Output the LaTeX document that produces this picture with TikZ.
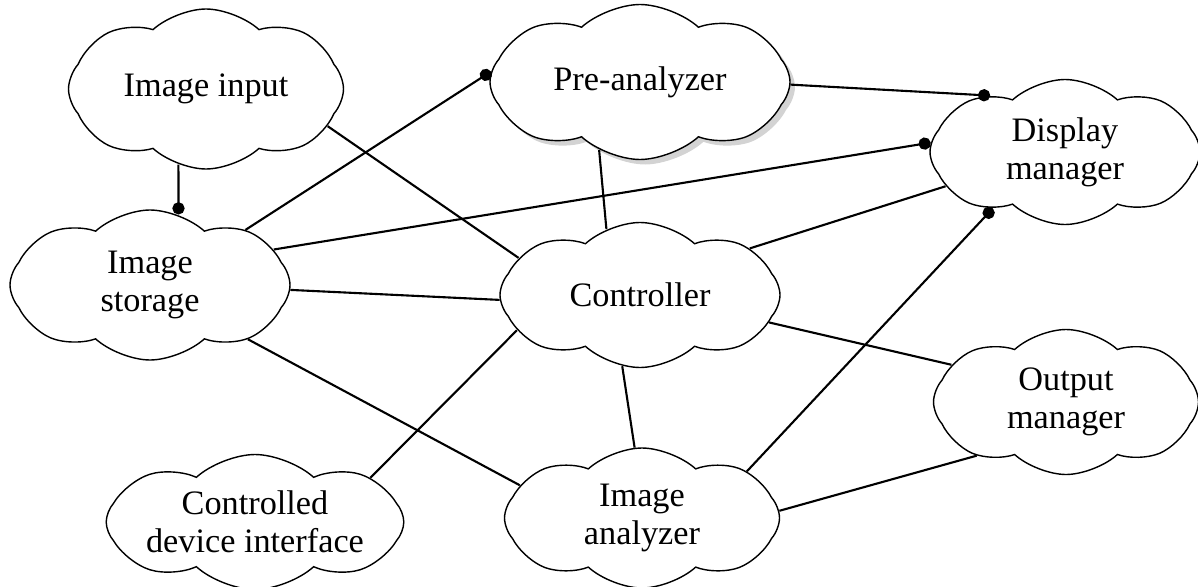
\documentclass[tikz,border=0pt]{standalone}
\usepackage{fontspec}
\setmainfont{Liberation Serif}
\usepackage{tikz}
\usetikzlibrary{arrows,shapes.symbols,shadows}
\tikzset{
  blob/.style = {cloud, cloud puffs=8, cloud puff arc=85, cloud ignores aspect,
    draw=black, line width=0.8pt, fill=white, align=center, inner sep=0pt,
    font=\fontsize{19.5}{21.5}\selectfont},% module
  blob_s/.style = {blob, drop shadow={opacity=0.35, shadow xshift=1mm,
    shadow yshift=-1mm}},% module with shadow
  link/.style = {draw=black, line width=1.2pt}% connection
}

\begin{document}
\begin{tikzpicture}[>=stealth']
  	\useasboundingbox (0,0) rectangle (23.96,-11.72);
  	\node [blob, minimum width=5.5cm, minimum height=3.2cm] (inp) at (4.12,-1.78) {Image input};
  	\node [blob_s, minimum width=6.0cm, minimum height=3.1cm] (pre) at (12.8,-1.64) {Pre-analyzer};
  	\node [blob, minimum width=5.4cm, minimum height=2.9cm] (disp) at (21.3,-3.04) {Display\\manager};
  	\node [blob, minimum width=5.6cm, minimum height=3.0cm] (stor) at (3.0,-5.7) {Image\\storage};
  	\node [blob, minimum width=5.6cm, minimum height=2.9cm] (ctrl) at (12.8,-5.9) {Controller};
  	\node [blob, minimum width=5.3cm, minimum height=2.9cm] (outp) at (21.32,-8.04) {Output\\manager};
  	\node [blob, minimum width=5.6cm, minimum height=2.7cm] (cdi) at (5.1,-10.44) {Controlled\\device interface};
  	\node [blob, minimum width=5.5cm, minimum height=2.8cm] (ana) at (12.84,-10.36) {Image\\analyzer};

	% plain links
	\foreach \from/\to in {inp.-17/ctrl.163, stor.-2/ctrl.182, stor.-29/ana.165,
	    pre.-121/ctrl.117, ctrl.23/disp.196, ctrl.-12/outp.162, ctrl.-104/ana.96,
	    ctrl.-164/cdi.21, ana.3/outp.-149}
    	  \draw [link] (\from) -- (\to);
	% links with a dot
	\foreach \from/\to in {inp.-110/stor.68, stor.30/pre.176, stor.16/disp.176,
	    pre.-1/disp.143, ana.24/disp.218}
    	  \draw [link,-*] (\from) -- (\to);
\end{tikzpicture}
\end{document}
